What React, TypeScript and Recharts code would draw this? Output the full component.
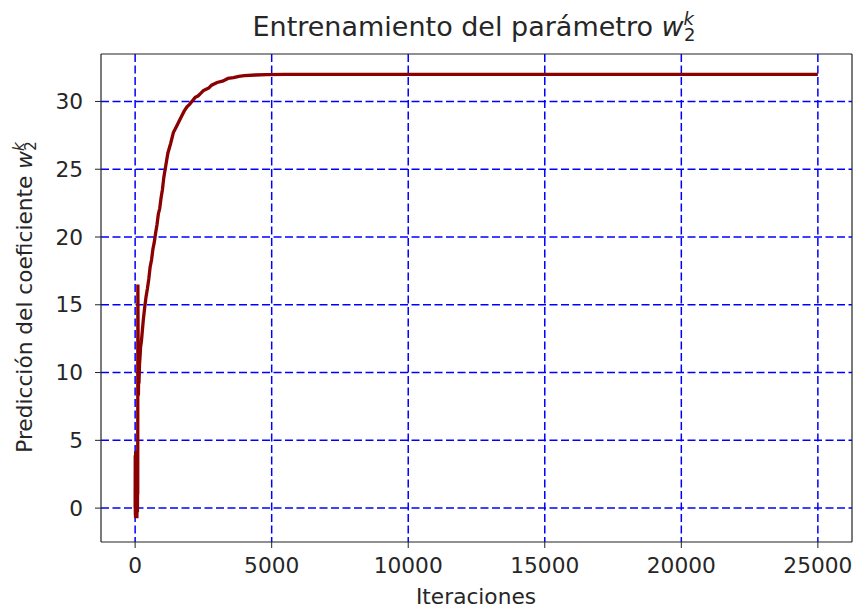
import { CartesianGrid, Line, LineChart, ReferenceLine, XAxis, YAxis } from "recharts";

// iteration index and the learned value of w2 at that step
const iteraciones = [
  0, 4, 8, 12, 16, 20, 25, 30, 35, 40, 45, 50, 55, 60, 65, 70, 75, 80, 85, 90,
  95, 100, 110, 120, 130, 140, 160, 180, 200, 230, 260, 300, 350, 400, 450,
  500, 550, 600, 650, 700, 750, 800, 850, 900, 950, 1000, 1050, 1100, 1150,
  1200, 1300, 1400, 1500, 1600, 1700, 1800, 1900, 2000, 2100, 2200, 2300,
  2400, 2500, 2600, 2700, 2800, 3000, 3200, 3400, 3600, 3800, 4000, 4400,
  4800, 5500, 7000, 10000, 15000, 20000, 25000,
];
const prediccion = [
  0.0, 3.9, -0.5, 2.8, -0.75, 4.2, 0.3, 3.1, -0.6, 2.2, -0.4, 3.6, 0.1, 1.8,
  -0.75, 2.9, 0.5, 4.1, -0.3, 2.4, 1.0, 16.5, 12.0, 8.3, 10.1, 9.2, 10.6,
  11.2, 11.9, 12.3, 13.0, 13.9, 14.8, 15.6, 16.2, 16.9, 17.8, 18.3, 19.1,
  19.6, 20.3, 20.9, 21.7, 22.1, 22.9, 23.5, 24.4, 25.0, 25.6, 26.2, 26.9,
  27.7, 28.1, 28.5, 28.9, 29.3, 29.6, 29.8, 30.05, 30.3, 30.4, 30.6, 30.8,
  30.9, 31.0, 31.2, 31.4, 31.5, 31.7, 31.75, 31.85, 31.9, 31.95, 31.98, 32.0,
  32.0, 32.0, 32.0, 32.0, 32.0,
];

const xTicks = [0, 5000, 10000, 15000, 20000, 25000];
const yTicks = [0, 5, 10, 15, 20, 25, 30];
const xDomain = [-1250, 26250];
const yDomain = [-2.5, 33.5];

const FONT = "DejaVu Sans";
const TEXT = "#262626";
const SPINE = { stroke: "#222", strokeWidth: 1.2 };
const tickStyle = { fontSize: 21.7, fill: TEXT, fontFamily: FONT };

export default function App() {
  const data = iteraciones.map((it, i) => ({ it, w: prediccion[i] }));

  return (
    <div style={{ position: "absolute", left: 0, top: 0, width: 855, height: 610, background: "#fff" }}>
      <LineChart
        width={855}
        height={610}
        data={data}
        margin={{ top: 54, right: 3, bottom: 0, left: 0 }}
      >
        {/* syncWithTicks keeps the grid off the plot edges */}
        <CartesianGrid
          stroke="#0000ff"
          strokeWidth={1.5}
          strokeDasharray="8 3.5"
          syncWithTicks
        />
        <XAxis
          dataKey="it"
          type="number"
          domain={xDomain}
          ticks={xTicks}
          height={68}
          tickSize={6}
          tickMargin={10}
          tick={tickStyle}
          axisLine={SPINE}
          tickLine={{ stroke: "#222" }}
          allowDataOverflow
        />
        <YAxis
          type="number"
          domain={yDomain}
          ticks={yTicks}
          width={101}
          tickSize={6}
          tickMargin={12}
          tick={tickStyle}
          axisLine={SPINE}
          tickLine={{ stroke: "#222" }}
          allowDataOverflow
        />
        <Line
          type="linear"
          dataKey="w"
          stroke="#8b0000"
          strokeWidth={3.3}
          dot={false}
          activeDot={false}
          isAnimationActive={false}
        />
        {/* top and right spines of the frame */}
        <ReferenceLine y={yDomain[1]} stroke={SPINE.stroke} strokeWidth={SPINE.strokeWidth} />
        <ReferenceLine x={xDomain[1]} stroke={SPINE.stroke} strokeWidth={SPINE.strokeWidth} />
      </LineChart>
      <svg
        width={855}
        height={610}
        style={{ position: "absolute", left: 0, top: 0, pointerEvents: "none" }}
        fontFamily={FONT}
        fill={TEXT}
      >
        <text x={474} y={36} fontSize={27} textAnchor="middle">
          <tspan>Entrenamiento del parámetro </tspan>
          <tspan fontStyle="italic">w</tspan>
          <tspan fontStyle="italic" fontSize={18} dy={-11}>k</tspan>
          <tspan fontSize={18} dx={-10} dy={16}>2</tspan>
        </text>
        <text x={476} y={604} fontSize={21.7} textAnchor="middle">
          Iteraciones
        </text>
        <text transform="rotate(-90)" x={-297} y={32} fontSize={21.7} textAnchor="middle">
          <tspan>Predicción del coeficiente </tspan>
          <tspan fontStyle="italic">w</tspan>
          <tspan fontStyle="italic" fontSize={15} dy={-8}>k</tspan>
          <tspan fontSize={15} dx={-8.5} dy={12}>2</tspan>
        </text>
      </svg>
    </div>
  );
}
